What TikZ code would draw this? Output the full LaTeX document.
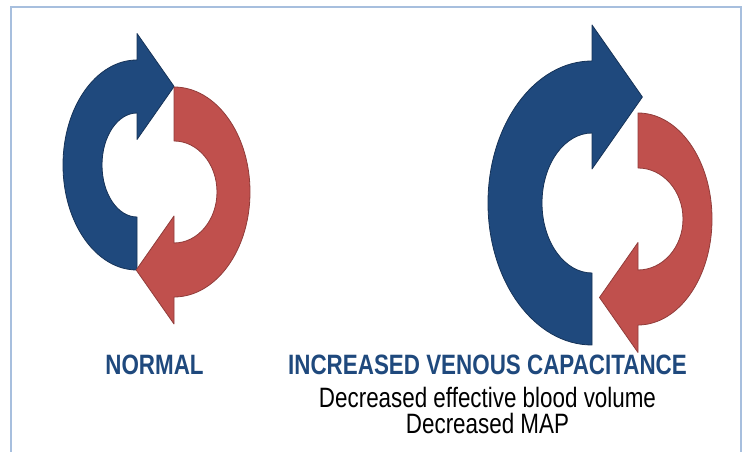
\documentclass[tikz,border=0pt]{standalone}
\usepackage{fontspec}
\setmainfont{Liberation Sans}
\newfontfamily\narrowsans[FakeStretch=0.8]{Liberation Sans}
\usetikzlibrary{positioning}

\definecolor{loopblue}{RGB}{31,73,125}
\definecolor{loopred}{RGB}{192,80,77}
\definecolor{frameblue}{RGB}{167,191,222}

\tikzstyle{blueloop}=[fill=loopblue, draw=loopblue!70!black, line width=0.8pt, line join=round]
\tikzstyle{redloop}=[fill=loopred, draw=loopred!75!black, line width=0.8pt, line join=round]
\tikzstyle{heading}=[anchor=base, inner sep=0pt, text=loopblue, font=\narrowsans\bfseries\fontsize{28}{26}\selectfont]
\tikzstyle{caption}=[anchor=base, inner sep=0pt, align=center, font=\narrowsans\fontsize{28}{26}\selectfont]

% half ring with an arrow head at its upper end
% #1 style, #2/#3 outer radii, #4/#5 inner radii
\newcommand{\halfloop}[5]{%
  \pgfmathsetmacro\thk{#3-#5}
  \draw[#1] (0,-#3) arc[start angle=270, end angle=90, x radius=#2, y radius=#3]
    -- (0,{#3+0.5*\thk}) -- ({0.7*\thk},{(#3+#5)/2}) -- (0,{#5-0.5*\thk})
    -- (0,#5) arc[start angle=90, end angle=270, x radius=#4, y radius=#5] -- cycle;
}

\begin{document}
\begin{tikzpicture}[x=1pt, y=1pt]
\useasboundingbox (0,0) rectangle (747,452);
% frame, open at the bottom
\draw[frameblue, line width=2.5pt] (11,-5) -- (11,445) -- (741,445) -- (741,-5);

%normal loop
\begin{scope}[shift={(137,287)}]
  \halfloop{blueloop}{74}{105}{35}{52}
\end{scope}
\begin{scope}[shift={(174,260)}, rotate=180]
  \halfloop{redloop}{76}{105}{43}{51}
\end{scope}

%increased venous capacitance
\begin{scope}[shift={(592,249)}]
  \halfloop{blueloop}{104}{142}{50}{70}
\end{scope}
\begin{scope}[shift={(638,233)}, rotate=180]
  \halfloop{redloop}{74}{106}{45}{51}
\end{scope}

%labels (caption sits on the baseline of its last line)
\node[heading] (normal) at (154.5,77) {NORMAL};
\node[heading] (increased) at (487.5,77) {INCREASED VENOUS CAPACITANCE};
\node[caption] (effects) at (487.5,18) {Decreased effective blood volume\\Decreased MAP};
\end{tikzpicture}
\end{document}
